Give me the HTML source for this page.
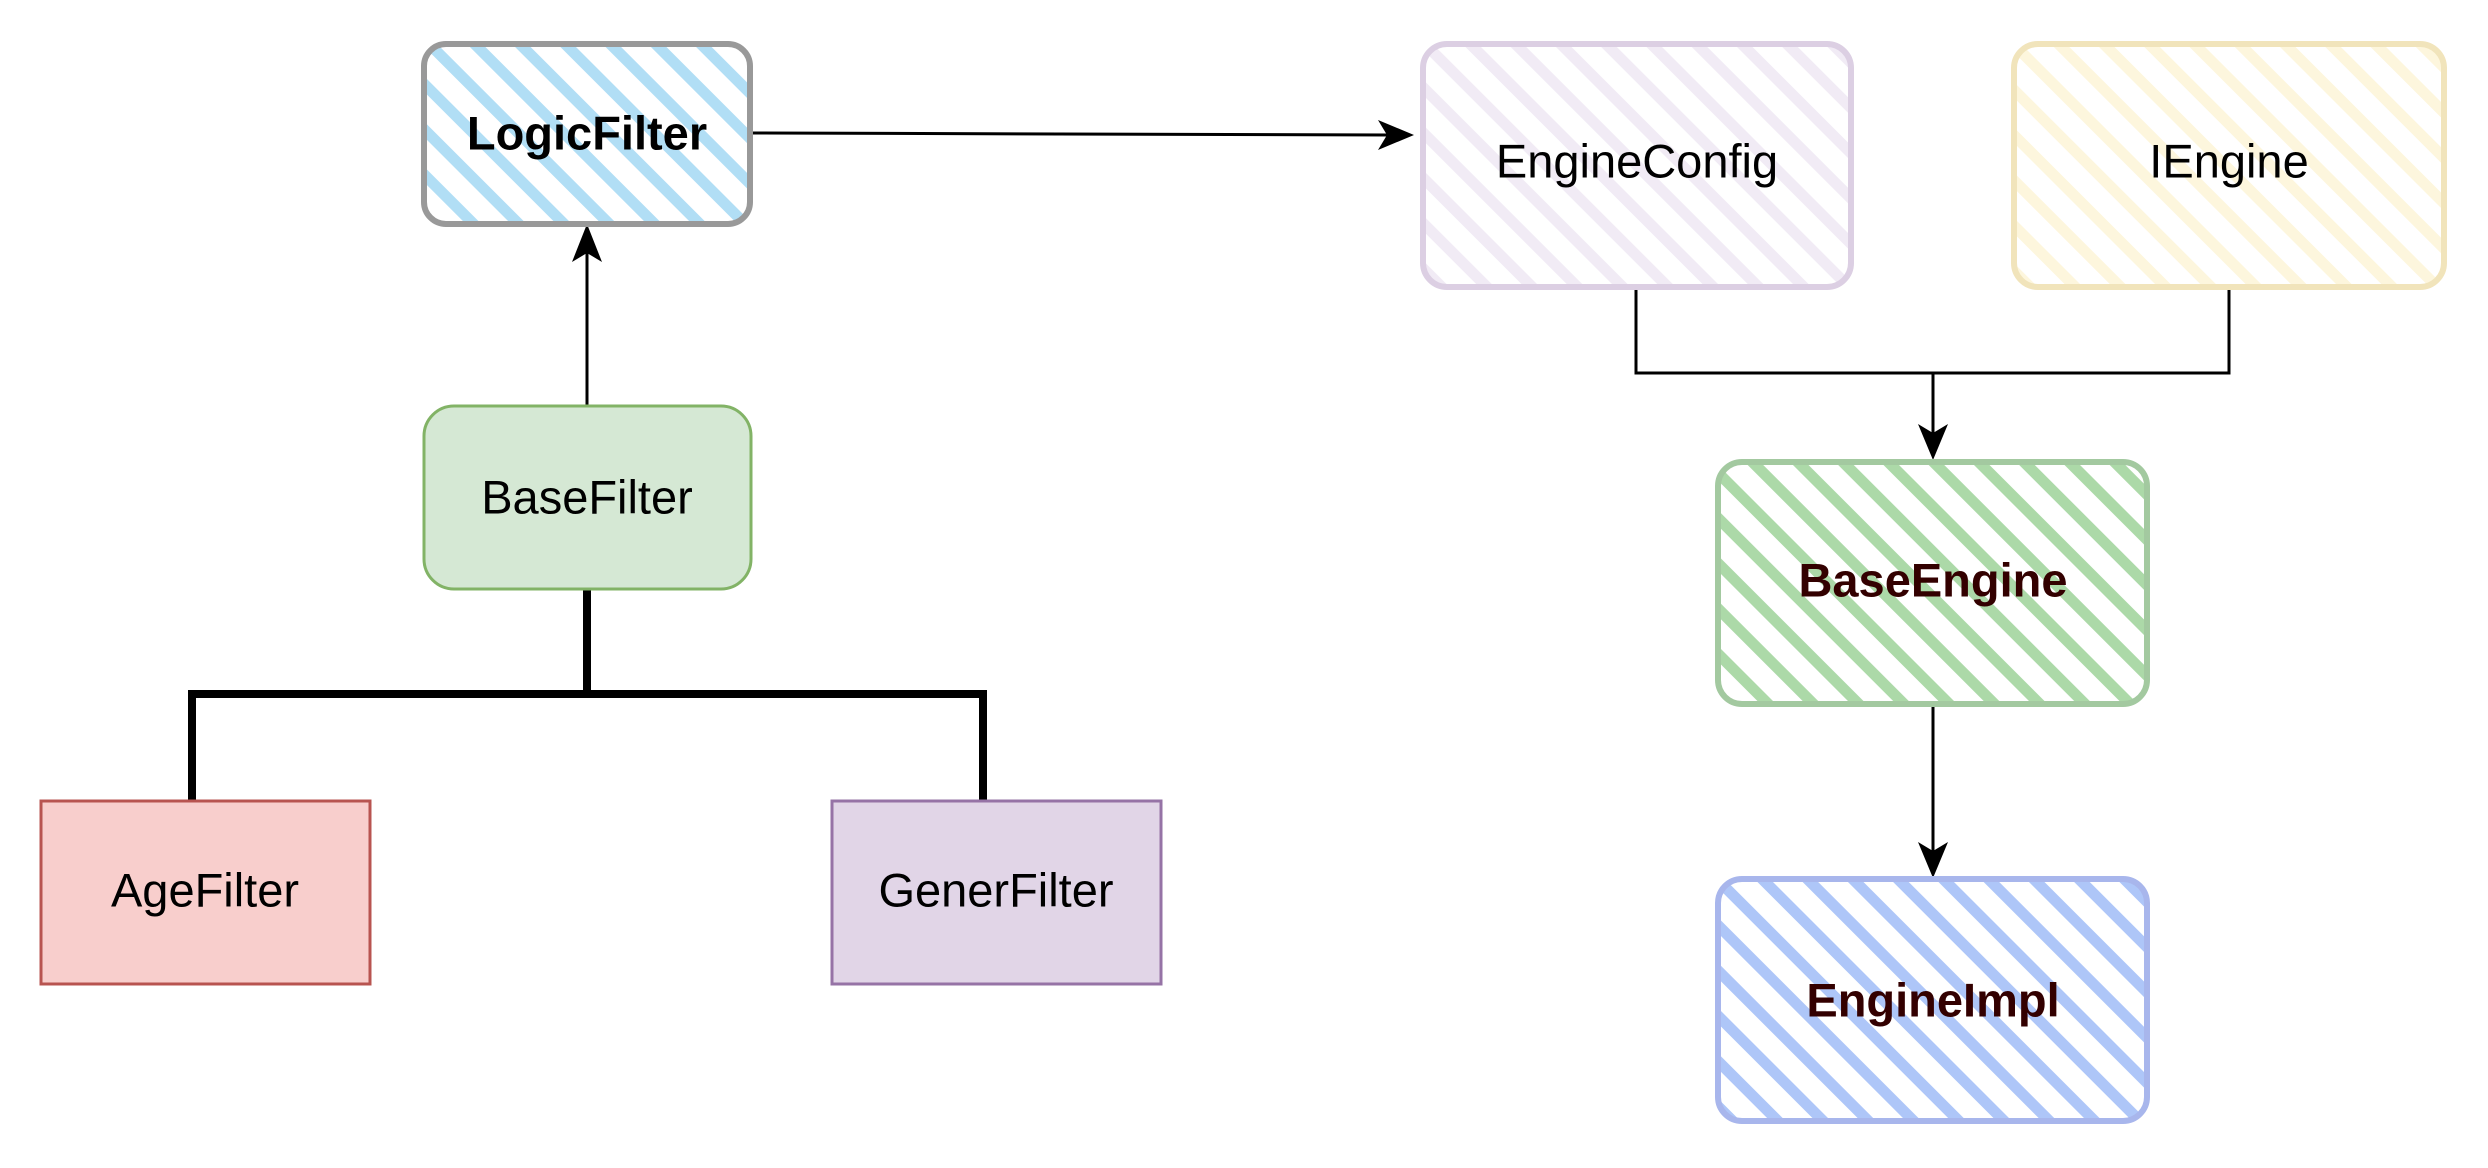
<!DOCTYPE html>
<html><head><meta charset="utf-8"><style>
html,body{margin:0;padding:0;background:#fff;}
svg{display:block;}
text{font-family:"Liberation Sans",Arial,sans-serif;font-size:47px;text-anchor:middle;dominant-baseline:central;}
</style></head><body>
<svg width="2488" height="1168" viewBox="0 0 2488 1168" xmlns="http://www.w3.org/2000/svg">
<defs>
<pattern id="hb" width="32" height="32" patternUnits="userSpaceOnUse" patternTransform="rotate(45)"><rect x="0" y="10" width="32" height="11" fill="#b1def5"/></pattern>
<pattern id="hp" width="32" height="32" patternUnits="userSpaceOnUse" patternTransform="rotate(45)"><rect x="0" y="10" width="32" height="11" fill="#f1ebf5"/></pattern>
<pattern id="hy" width="32" height="32" patternUnits="userSpaceOnUse" patternTransform="rotate(45)"><rect x="0" y="10" width="32" height="11" fill="#fdf6dd"/></pattern>
<pattern id="hg" width="32" height="32" patternUnits="userSpaceOnUse" patternTransform="rotate(45)"><rect x="0" y="10" width="32" height="11" fill="#acd9a8"/></pattern>
<pattern id="hi" width="32" height="32" patternUnits="userSpaceOnUse" patternTransform="rotate(45)"><rect x="0" y="10" width="32" height="11" fill="#aec6f8"/></pattern>
</defs>

<!-- connectors -->
<line x1="587" y1="405" x2="587" y2="250" stroke="#000" stroke-width="3"/>
<polygon points="587,224 572,262 587,253 602,262" fill="#000"/>
<line x1="752" y1="133" x2="1390" y2="135" stroke="#000" stroke-width="3"/>
<polygon points="1414,135 1378,120 1387,135 1378,150" fill="#000"/>
<polyline points="587,589 587,694 192,694 192,800" fill="none" stroke="#000" stroke-width="8"/>
<polyline points="587,694 983,694 983,800" fill="none" stroke="#000" stroke-width="8"/>
<polyline points="1636,287 1636,373 2229,373 2229,287" fill="none" stroke="#000" stroke-width="3"/>
<line x1="1933" y1="373" x2="1933" y2="440" stroke="#000" stroke-width="3"/>
<polygon points="1933,460 1918,424 1933,433 1948,424" fill="#000"/>
<line x1="1933" y1="704" x2="1933" y2="860" stroke="#000" stroke-width="3"/>
<polygon points="1933,878 1918,842 1933,851 1948,842" fill="#000"/>

<!-- LogicFilter -->
<rect x="424" y="44" width="326" height="180" rx="22" fill="url(#hb)"/>
<rect x="424" y="44" width="326" height="180" rx="22" fill="none" stroke="#999" stroke-width="6"/>
<text x="587" y="133" font-weight="bold">LogicFilter</text>

<!-- BaseFilter -->
<rect x="424" y="406" width="327" height="183" rx="30" fill="#d5e8d4" stroke="#82b366" stroke-width="3"/>
<text x="587" y="497">BaseFilter</text>

<!-- AgeFilter -->
<rect x="41" y="801" width="329" height="183" fill="#f8cecc" stroke="#b85450" stroke-width="3"/>
<text x="205" y="890">AgeFilter</text>

<!-- GenerFilter -->
<rect x="832" y="801" width="329" height="183" fill="#e1d5e7" stroke="#9673a6" stroke-width="3"/>
<text x="996" y="890">GenerFilter</text>

<!-- EngineConfig -->
<rect x="1423" y="44" width="428" height="243" rx="24" fill="url(#hp)"/>
<rect x="1423" y="44" width="428" height="243" rx="24" fill="none" stroke="#dccfe3" stroke-width="6"/>
<text x="1637" y="161">EngineConfig</text>

<!-- IEngine -->
<rect x="2014" y="44" width="430" height="243" rx="24" fill="url(#hy)"/>
<rect x="2014" y="44" width="430" height="243" rx="24" fill="none" stroke="#f1e4bb" stroke-width="6"/>
<text x="2229" y="161">IEngine</text>

<!-- BaseEngine -->
<rect x="1718" y="462" width="429" height="242" rx="24" fill="url(#hg)"/>
<rect x="1718" y="462" width="429" height="242" rx="24" fill="none" stroke="#a3c9a0" stroke-width="6"/>
<text x="1933" y="580" font-weight="bold" fill="#330000">BaseEngine</text>

<!-- EngineImpl -->
<rect x="1718" y="879" width="429" height="242" rx="24" fill="url(#hi)"/>
<rect x="1718" y="879" width="429" height="242" rx="24" fill="none" stroke="#a8b6ec" stroke-width="6"/>
<text x="1933" y="1000" font-weight="bold" fill="#330000">EngineImpl</text>
</svg>
</body></html>
